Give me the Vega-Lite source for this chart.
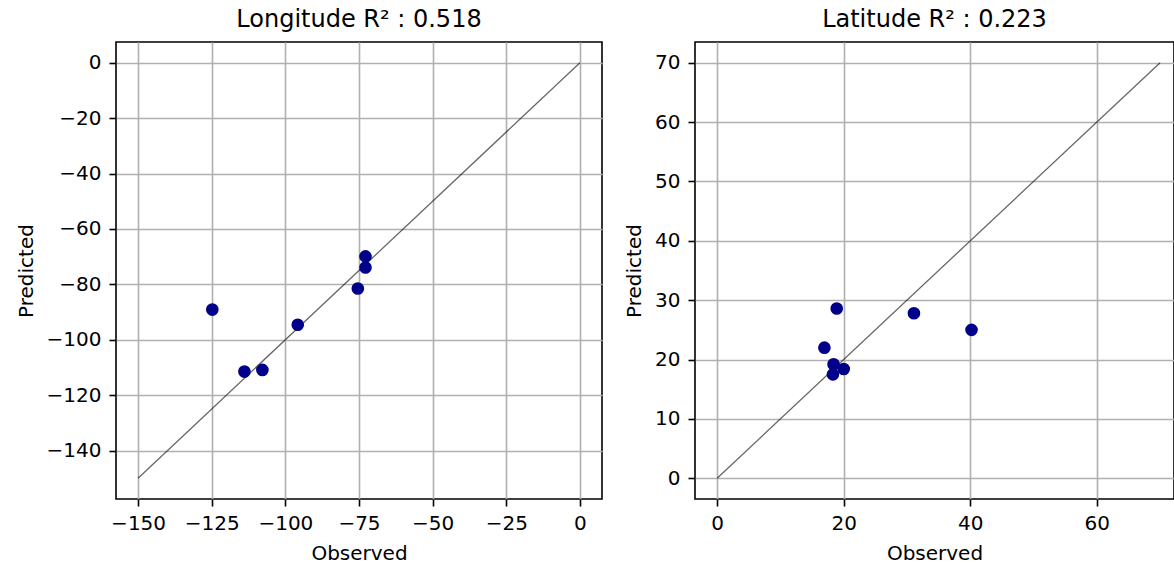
{
  "$schema": "https://vega.github.io/schema/vega-lite/v6.json",
  "padding": {"left": 15, "top": 7, "right": 0, "bottom": 0},
  "background": "white",
  "datasets": {
    "lon": [
      {"Observed": -124.8, "Predicted": -89.1},
      {"Observed": -113.9, "Predicted": -111.5},
      {"Observed": -107.8, "Predicted": -110.9},
      {"Observed": -95.8, "Predicted": -94.6},
      {"Observed": -75.4, "Predicted": -81.5},
      {"Observed": -72.8, "Predicted": -73.9},
      {"Observed": -72.8, "Predicted": -69.9}
    ],
    "lonLine": [
      {"Observed": -150, "Predicted": -150},
      {"Observed": 0, "Predicted": 0}
    ],
    "lat": [
      {"Observed": 18.9, "Predicted": 28.6},
      {"Observed": 31.1, "Predicted": 27.8},
      {"Observed": 40.2, "Predicted": 25.0},
      {"Observed": 16.95, "Predicted": 22.0},
      {"Observed": 18.4, "Predicted": 19.2},
      {"Observed": 18.3, "Predicted": 17.5},
      {"Observed": 20.0, "Predicted": 18.4}
    ],
    "latLine": [
      {"Observed": 0, "Predicted": 0},
      {"Observed": 70, "Predicted": 70}
    ]
  },
  "config": {
    "font": "DejaVu Sans",
    "view": {"stroke": "black", "strokeWidth": 1.6},
    "axis": {
      "domain": false,
      "labelFont": "DejaVu Sans",
      "labelFontSize": 20,
      "labelColor": "black",
      "labelPadding": 7,
      "titleFont": "DejaVu Sans",
      "titleFontSize": 20,
      "titleFontWeight": "normal",
      "titleColor": "black",
      "titlePadding": 10,
      "tickColor": "black",
      "tickSize": 7,
      "tickWidth": 1.6,
      "grid": true,
      "gridColor": "#b0b0b0",
      "gridWidth": 1.6,
      "labelFlush": false,
      "labelOverlap": false
    },
    "axisY": {"labelPadding": 8},
    "title": {"font": "DejaVu Sans", "fontSize": 24, "fontWeight": "normal", "color": "black", "offset": 10}
  },
  "spacing": 20,
  "hconcat": [
    {
      "width": 486,
      "height": 457,
      "title": "Longitude R² : 0.518",
      "layer": [
        {
          "data": {"name": "lonLine"},
          "mark": {"type": "line", "color": "black", "opacity": 0.6, "strokeWidth": 1.3},
          "encoding": {
            "x": {"field": "Observed", "type": "quantitative", "scale": {"domain": [-157.5, 7.5], "nice": false, "zero": false}, "axis": {"values": [-150, -125, -100, -75, -50, -25, 0], "title": "Observed"}},
            "y": {"field": "Predicted", "type": "quantitative", "scale": {"domain": [-157.5, 7.5], "nice": false, "zero": false}, "axis": {"values": [0, -20, -40, -60, -80, -100, -120, -140], "title": "Predicted"}}
          }
        },
        {
          "data": {"name": "lon"},
          "mark": {"type": "circle", "color": "#00008b", "opacity": 1, "size": 160},
          "encoding": {
            "x": {"field": "Observed", "type": "quantitative"},
            "y": {"field": "Predicted", "type": "quantitative"}
          }
        }
      ]
    },
    {
      "width": 479,
      "height": 457,
      "title": "Latitude R² : 0.223",
      "layer": [
        {
          "data": {"name": "latLine"},
          "mark": {"type": "line", "color": "black", "opacity": 0.6, "strokeWidth": 1.3},
          "encoding": {
            "x": {"field": "Observed", "type": "quantitative", "scale": {"domain": [-3.5, 72.2], "nice": false, "zero": false}, "axis": {"values": [0, 20, 40, 60], "title": "Observed"}},
            "y": {"field": "Predicted", "type": "quantitative", "scale": {"domain": [-3.5, 73.5], "nice": false, "zero": false}, "axis": {"values": [0, 10, 20, 30, 40, 50, 60, 70], "title": "Predicted"}}
          }
        },
        {
          "data": {"name": "lat"},
          "mark": {"type": "circle", "color": "#00008b", "opacity": 1, "size": 160},
          "encoding": {
            "x": {"field": "Observed", "type": "quantitative"},
            "y": {"field": "Predicted", "type": "quantitative"}
          }
        }
      ]
    }
  ]
}
